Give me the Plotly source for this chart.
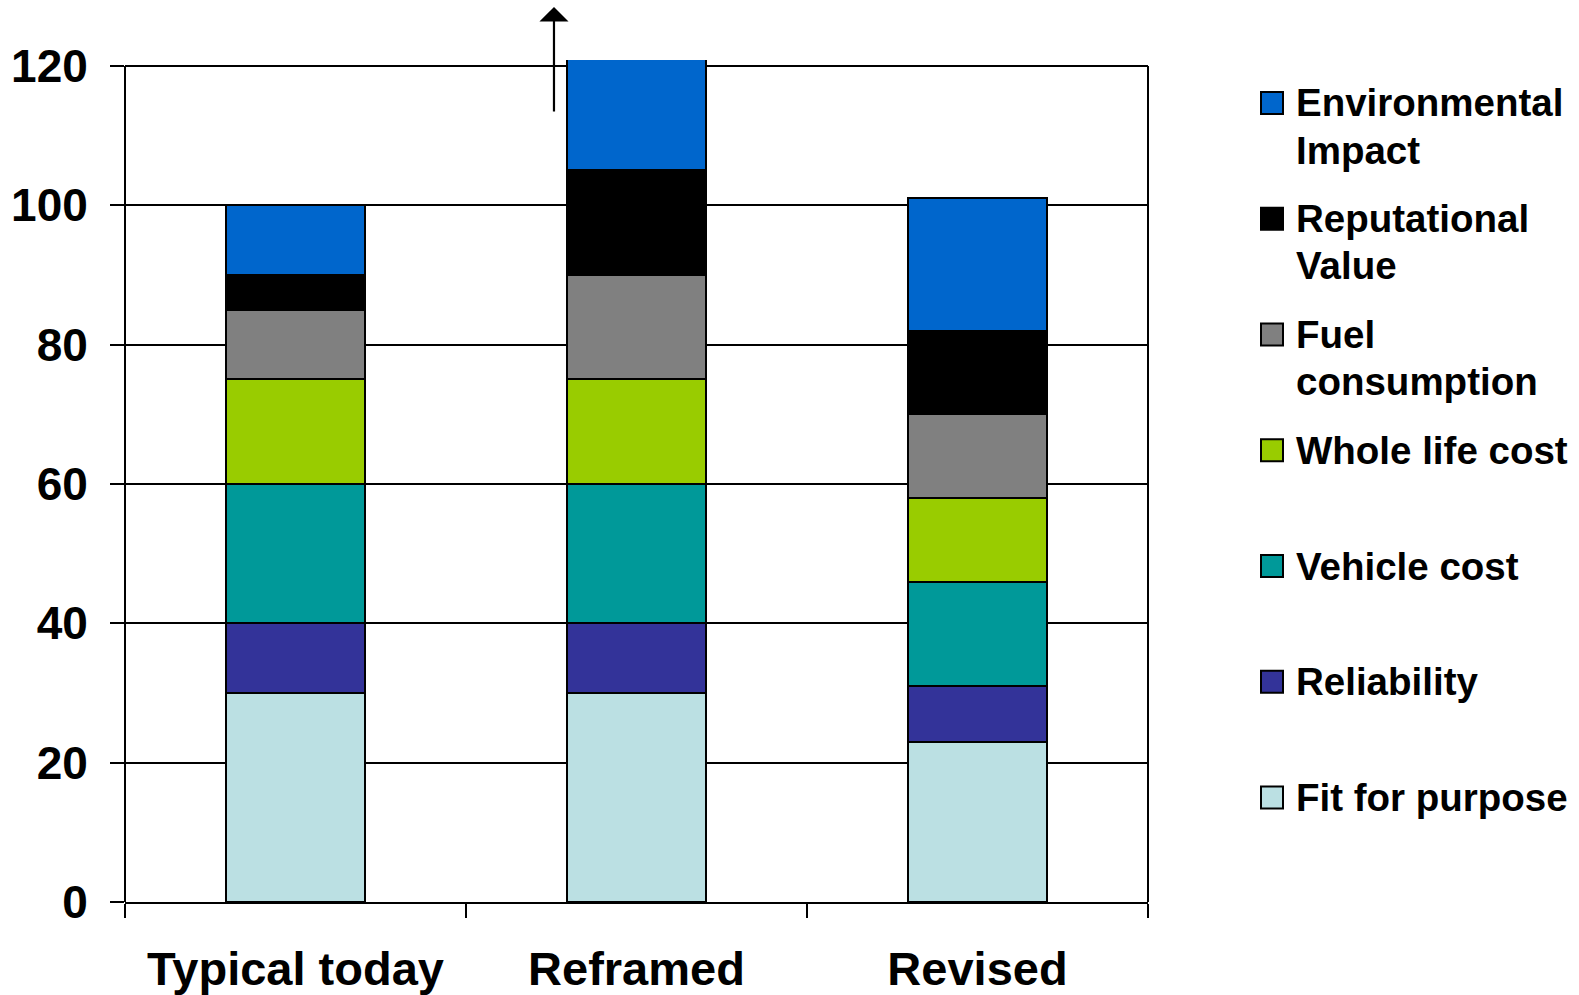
import plotly.graph_objects as go

# Scenario columns
categories = ["Typical today", "Reframed", "Revised"]

# Stacked weighting components, bottom to top
series_names = [
    "Fit for purpose",
    "Reliability",
    "Vehicle cost",
    "Whole life cost",
    "Fuel consumption",
    "Reputational Value",
    "Environmental Impact",
]
fit_for_purpose = [30, 30, 23]
reliability = [10, 10, 8]
vehicle_cost = [20, 20, 15]
whole_life_cost = [15, 15, 12]
fuel_consumption = [10, 15, 12]
reputational_value = [5, 15, 12]
environmental_impact = [10, 16, 19]

series_values = [
    fit_for_purpose,
    reliability,
    vehicle_cost,
    whole_life_cost,
    fuel_consumption,
    reputational_value,
    environmental_impact,
]
series_colors = ["#BBE0E3", "#333399", "#009999", "#99CC00", "#808080", "#000000", "#0066CC"]

# Legend text, top to bottom
legend_labels = {
    "Environmental Impact": ["Environmental", "Impact"],
    "Reputational Value": ["Reputational", "Value"],
    "Fuel consumption": ["Fuel", "consumption"],
    "Whole life cost": ["Whole life cost"],
    "Vehicle cost": ["Vehicle cost"],
    "Reliability": ["Reliability"],
    "Fit for purpose": ["Fit for purpose"],
}

y_ticks = [0, 20, 40, 60, 80, 100, 120]
y_frame_top = 120
y_view_top = 120.85  # a little headroom so the tallest stack runs past the frame

W, H = 1579, 995
ML, MR, MT, MB = 125, 431, 60, 93
PW, PH = W - ML - MR, H - MT - MB

FONT = "Liberation Sans, Arial, sans-serif"


def paper_x(px):
    return (px - ML) / PW


def paper_y(py):
    return (H - MB - py) / PH


fig = go.Figure()
for name, vals, col in zip(series_names, series_values, series_colors):
    fig.add_trace(
        go.Bar(
            x=categories,
            y=vals,
            name=name,
            marker=dict(color=col, line=dict(color="#000000", width=2)),
            showlegend=False,
        )
    )

shapes = []
annotations = []

# Side borders of the frame, stopping at the top gridline
for xp in (0, 1):
    shapes.append(
        dict(
            type="line",
            xref="paper",
            yref="y",
            x0=xp,
            x1=xp,
            y0=0,
            y1=y_frame_top,
            line=dict(color="#000000", width=2),
            layer="above",
        )
    )

# Hand-built legend: boxed swatches with bold labels
first_y = 103
step_y = 115.75
line_gap = 47
for i, name in enumerate(reversed(series_names)):
    col = series_colors[series_names.index(name)]
    cy = first_y + i * step_y
    shapes.append(
        dict(
            type="rect",
            xref="paper",
            yref="paper",
            x0=paper_x(1261),
            x1=paper_x(1283),
            y0=paper_y(cy + 11),
            y1=paper_y(cy - 11),
            fillcolor=col,
            line=dict(color="#000000", width=2),
            layer="above",
        )
    )
    for j, txt in enumerate(legend_labels[name]):
        annotations.append(
            dict(
                text=txt,
                xref="paper",
                yref="paper",
                x=paper_x(1294),
                y=paper_y(cy + j * line_gap),
                xanchor="left",
                yanchor="middle",
                showarrow=False,
                font=dict(family=FONT, size=38.5, color="#000000", weight="bold"),
            )
        )

# Upward arrow marking the bar that runs off the scale
annotations.append(
    dict(
        text="",
        xref="x",
        yref="paper",
        x=0.758,
        y=paper_y(7),
        ax=0,
        ay=106,
        axref="pixel",
        ayref="pixel",
        showarrow=True,
        arrowhead=1,
        arrowsize=2.2,
        arrowwidth=2.2,
        arrowcolor="#000000",
    )
)

fig.update_layout(
    width=W,
    height=H,
    margin=dict(l=ML, r=MR, t=MT, b=MB, autoexpand=False),
    barmode="stack",
    bargap=0.59,
    plot_bgcolor="#FFFFFF",
    paper_bgcolor="#FFFFFF",
    font=dict(family=FONT, color="#000000"),
    shapes=shapes,
    annotations=annotations,
    showlegend=False,
)

fig.update_xaxes(
    type="category",
    tickson="boundaries",
    ticks="outside",
    ticklen=14,
    tickwidth=2,
    tickcolor="#000000",
    showline=True,
    linewidth=2,
    linecolor="#000000",
    mirror=False,
    showgrid=False,
    automargin=False,
    tickfont=dict(family=FONT, size=47, color="#000000", weight="bold"),
    ticklabelstandoff=25,
)

fig.update_yaxes(
    range=[0, y_view_top],
    tickvals=y_ticks,
    ticks="outside",
    ticklen=14,
    tickwidth=2,
    tickcolor="#000000",
    showline=False,
    showgrid=True,
    gridcolor="#000000",
    gridwidth=2,
    zeroline=False,
    automargin=False,
    tickfont=dict(family=FONT, size=46, color="#000000", weight="bold"),
    ticklabelstandoff=13,
)

fig.write_html("out.html")
